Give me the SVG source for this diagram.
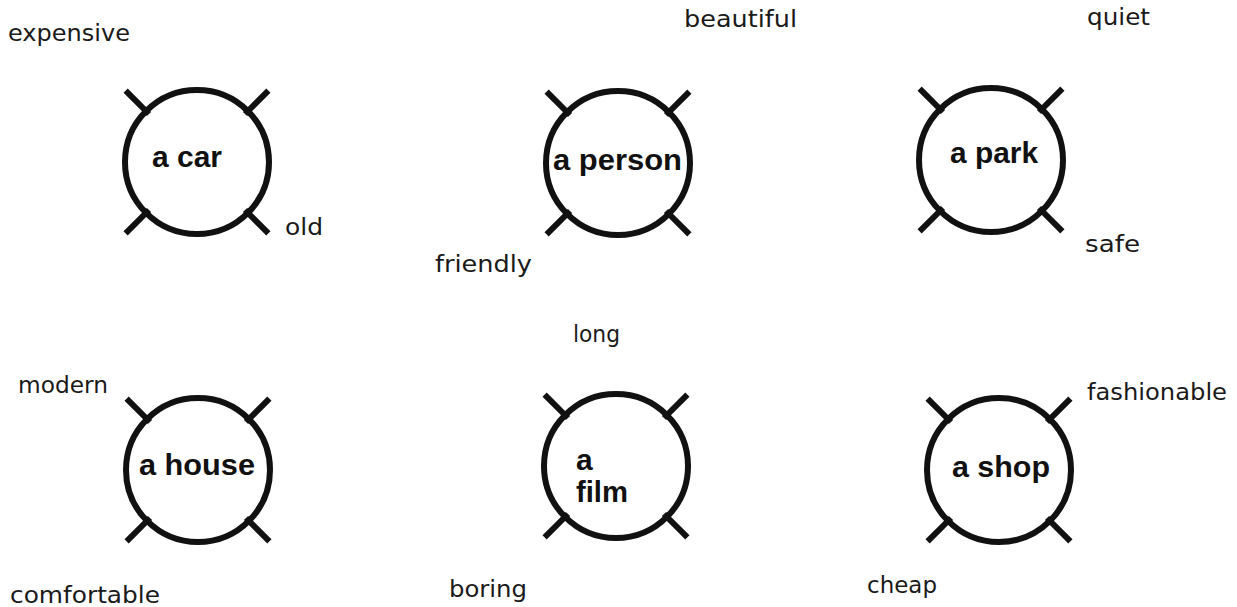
<svg xmlns="http://www.w3.org/2000/svg" xmlns:xlink="http://www.w3.org/1999/xlink" width="1237" height="607" viewBox="0 0 1237 607">
  <style>
    .ring { fill: none; stroke: #111; stroke-width: 6; }
    .node-label { font-family: "Liberation Sans", Arial, sans-serif; font-weight: bold; font-size: 30px; fill: #111; }
    .word { font-family: "DejaVu Sans", "Liberation Sans", sans-serif; font-size: 23px; fill: #1a1a1a; }
  </style>
  <defs>
    <g id="ring">
      <circle class="ring" cx="0" cy="0" r="72"/>
      <line class="ring" x1="-48" y1="-48" x2="-71.4" y2="-71.4"/>
      <line class="ring" x1="48" y1="-48" x2="71.4" y2="-71.4"/>
      <line class="ring" x1="-48" y1="48" x2="-71.4" y2="71.4"/>
      <line class="ring" x1="48" y1="48" x2="71.4" y2="71.4"/>
    </g>
  </defs>
  <rect x="0" y="0" width="1237" height="607" fill="#ffffff"/>

  <g id="node-car">
    <use xlink:href="#ring" href="#ring" transform="translate(197,162)"/>
    <text class="node-label" x="152" y="167" textLength="70" lengthAdjust="spacingAndGlyphs">a car</text>
  </g>
  <g id="node-person">
    <use xlink:href="#ring" href="#ring" transform="translate(618,163)"/>
    <text class="node-label" x="553" y="170" textLength="129" lengthAdjust="spacingAndGlyphs">a person</text>
  </g>
  <g id="node-park">
    <use xlink:href="#ring" href="#ring" transform="translate(991,160)"/>
    <text class="node-label" x="950" y="163" textLength="88" lengthAdjust="spacingAndGlyphs">a park</text>
  </g>
  <g id="node-house">
    <use xlink:href="#ring" href="#ring" transform="translate(198,470)"/>
    <text class="node-label" x="139" y="475" textLength="116" lengthAdjust="spacingAndGlyphs">a house</text>
  </g>
  <g id="node-film">
    <use xlink:href="#ring" href="#ring" transform="translate(616,466)"/>
    <text class="node-label" x="576" y="470">a</text>
    <text class="node-label" x="576" y="502" textLength="52" lengthAdjust="spacingAndGlyphs">film</text>
  </g>
  <g id="node-shop">
    <use xlink:href="#ring" href="#ring" transform="translate(999,470)"/>
    <text class="node-label" x="952" y="477" textLength="98" lengthAdjust="spacingAndGlyphs">a shop</text>
  </g>

  <g id="connectors"></g>

  <g id="words">
    <text class="word" x="8" y="41" textLength="122" lengthAdjust="spacingAndGlyphs">expensive</text>
    <text class="word" x="684" y="27" textLength="113" lengthAdjust="spacingAndGlyphs">beautiful</text>
    <text class="word" x="1087" y="25" textLength="63" lengthAdjust="spacingAndGlyphs">quiet</text>
    <text class="word" x="285" y="235" textLength="38" lengthAdjust="spacingAndGlyphs">old</text>
    <text class="word" x="435" y="272" textLength="97" lengthAdjust="spacingAndGlyphs">friendly</text>
    <text class="word" x="1085" y="252" textLength="55" lengthAdjust="spacingAndGlyphs">safe</text>
    <text class="word" x="573" y="342" textLength="47" lengthAdjust="spacingAndGlyphs">long</text>
    <text class="word" x="18" y="393" textLength="90" lengthAdjust="spacingAndGlyphs">modern</text>
    <text class="word" x="1087" y="400" textLength="140" lengthAdjust="spacingAndGlyphs">fashionable</text>
    <text class="word" x="10" y="603" textLength="150" lengthAdjust="spacingAndGlyphs">comfortable</text>
    <text class="word" x="449" y="597" textLength="78" lengthAdjust="spacingAndGlyphs">boring</text>
    <text class="word" x="867" y="593" textLength="70" lengthAdjust="spacingAndGlyphs">cheap</text>
  </g>
</svg>
